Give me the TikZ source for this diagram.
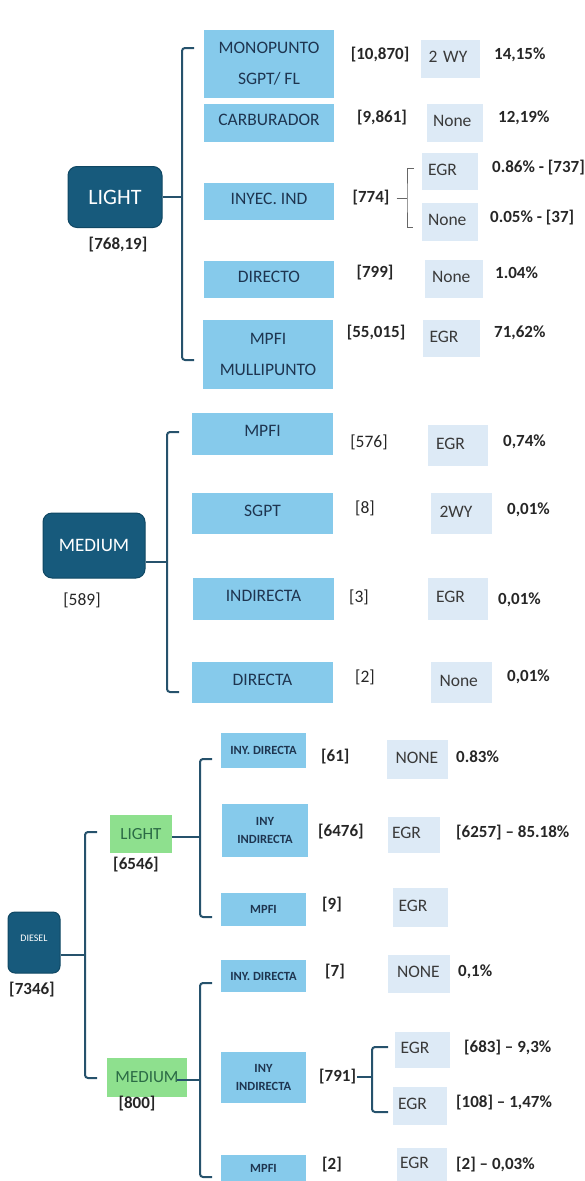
\documentclass[tikz,border=0pt]{standalone}
\usepackage{fontspec}
\setmainfont{Carlito}
\usetikzlibrary{positioning}

\definecolor{hubblue}{HTML}{175A7C}
\definecolor{hubedge}{HTML}{0F4763}
\definecolor{catblue}{HTML}{86CAEB}
\definecolor{typblue}{HTML}{DDEAF6}
\definecolor{grn}{HTML}{8EE08E}
\definecolor{grntext}{HTML}{2B6A45}
\definecolor{linec}{HTML}{26526C}
\definecolor{cattext}{HTML}{1E3550}
\definecolor{typtext}{HTML}{3A3A3A}
\definecolor{numtext}{HTML}{262626}

\begin{document}
\begin{tikzpicture}[x=1pt, y=-1pt,
    node distance=5pt,
    hub/.style={draw=hubedge, line width=1pt, fill=hubblue, rounded corners=9pt, text=white, inner sep=0pt},
    cat/.style={fill=catblue, text=cattext, inner sep=0pt, align=center, font=\fontsize{17.5}{31}\selectfont},
    cat1/.style={cat, text height=12pt, text depth=7pt},
    typ/.style={fill=typblue, text=typtext, inner sep=0pt, text width=44pt, align=left, text height=12pt, text depth=5pt, font=\fontsize{17.5}{21}\selectfont},
    sub/.style={fill=catblue, text=cattext, inner sep=0pt, align=center, font=\bfseries\fontsize{12.5}{18}\selectfont},
    grnbox/.style={fill=grn, text=grntext, inner sep=0pt, font=\fontsize{17}{20}\selectfont},
    num/.style={text=numtext, inner sep=1pt, font=\bfseries\fontsize{17}{21}\selectfont},
    numr/.style={num, font=\fontsize{17.5}{21}\selectfont},
    pct/.style={num, anchor=west},
    brk/.style={draw=linec, line width=2pt, rounded corners=3pt},
    thinbrk/.style={draw=black!60, line width=0.9pt}
  ]
  \useasboundingbox (0,0) rectangle (585,1181);

  % --- LIGHT ---
  \node[hub, minimum width=94pt, minimum height=61pt, font=\fontsize{22}{26}\selectfont] (light) at (115,197) {LIGHT};
  \node[num, below=8pt of light, xshift=3pt] (lightn) {[768,19]};

  \node[cat, minimum width=130pt, minimum height=68pt] (mono) at (269,64) {MONOPUNTO\\SGPT/ FL};
  \node[cat1, minimum width=130pt, minimum height=38pt] (carb) at (269,123) {CARBURADOR};
  \node[cat1, minimum width=130pt, minimum height=37pt] (inyec) at (269,201.5) {INYEC. IND};
  \node[cat1, minimum width=130pt, minimum height=37pt] (directo) at (269,279.5) {DIRECTO};
  \node[cat, minimum width=130pt, minimum height=69pt] (multi) at (268,354.5) {MPFI\\MULLIPUNTO};

  \node[num] (nmono) at (380,55) {[10,870]};
  \node[num] (ncarb) at (382,118) {[9,861]};
  \node[num] (ninyec) at (371,198) {[774]};
  \node[num] (ndirecto) at (375,273) {[799]};
  \node[num] (nmulti) at (376,333) {[55,015]};

  \node[typ, minimum width=59pt, minimum height=38pt] (tmono) at (450.5,59) {2 WY};
  \node[typ, minimum width=56pt, minimum height=38pt] (tcarb) at (455,123) {None};
  \node[typ, minimum width=56pt, minimum height=37pt] (tinyegr) at (450,171.5) {EGR};
  \node[typ, minimum width=56pt, minimum height=38pt] (tinynone) at (450,222) {None};
  \node[typ, minimum width=58pt, minimum height=38pt] (tdirecto) at (454,279) {None};
  \node[typ, minimum width=57pt, minimum height=37pt] (tmulti) at (451.5,338.5) {EGR};

  \node[pct] (pmono) at (493,55) {14,15\%};
  \node[pct] (pcarb) at (497,118) {12,19\%};
  \node[pct] (pinyegr) at (491,168) {0.86\% - [737]};
  \node[pct] (pinynone) at (489,218) {0.05\% - [37]};
  \node[pct] (pdirecto) at (494,273) {1.04\%};
  \node[pct] (pmulti) at (493,333) {71,62\%};

  \coordinate (lmid) at (182,197);
  \coordinate (ltop) at (194,48);
  \coordinate (lbot) at (194,360);
  \draw[brk] (light) -- (lmid);
  \draw[brk] (ltop) -| (lmid) |- (lbot);

  \coordinate (imid) at (407,198);
  \coordinate (itop) at (414,168);
  \coordinate (ibot) at (413,227);
  \draw[thinbrk, shorten <=6pt] (ninyec.east) -- (imid);
  \draw[thinbrk] (itop) -| (imid) |- (ibot);

  % --- MEDIUM ---
  \node[hub, minimum width=102pt, minimum height=65pt, font=\fontsize{19}{23}\selectfont] (medium) at (94,545.5) {MEDIUM};
  \node[numr, below=13pt of medium, xshift=-12pt] (mediumn) {[589]};

  \node[cat1, minimum width=141pt, minimum height=42pt] (mmpfi) at (262.5,434) {MPFI};
  \node[cat1, minimum width=141pt, minimum height=41pt] (msgpt) at (262.5,513.5) {SGPT};
  \node[cat1, minimum width=141pt, minimum height=42pt] (mindir) at (263.5,599) {INDIRECTA};
  \node[cat1, minimum width=141pt, minimum height=41pt] (mdir) at (262.5,682.5) {DIRECTA};

  \node[numr] (nmmpfi) at (369,442) {[576]};
  \node[numr] (nmsgpt) at (365,508) {[8]};
  \node[numr] (nmindir) at (359,597) {[3]};
  \node[numr] (nmdir) at (365,677) {[2]};

  \node[typ, minimum width=60pt, minimum height=41pt] (tmmpfi) at (458,445.5) {EGR};
  \node[typ, minimum width=61pt, minimum height=41pt] (tmsgpt) at (461.5,513.5) {2WY};
  \node[typ, minimum width=60pt, minimum height=42pt] (tmindir) at (458,599) {EGR};
  \node[typ, minimum width=61pt, minimum height=41pt] (tmdir) at (461.5,682.5) {None};

  \node[pct] (pmmpfi) at (502,442) {0,74\%};
  \node[pct] (pmsgpt) at (506,510) {0,01\%};
  \node[pct] (pmindir) at (497,600) {0,01\%};
  \node[pct] (pmdir) at (506,677) {0,01\%};

  \coordinate (mmid) at (167,562);
  \coordinate (mtop) at (179,432);
  \coordinate (mbot) at (179,692);
  \draw[brk] (medium.east |- mmid) -- (mmid);
  \draw[brk] (mtop) -| (mmid) |- (mbot);

  % --- DIESEL ---
  \node[hub, minimum width=52pt, minimum height=61pt, rounded corners=7pt, text depth=8pt, font=\fontsize{10}{12}\selectfont] (diesel) at (34,942.5) {DIESEL};
  \node[num, below=7pt of diesel, xshift=-2pt] (dieseln) {[7346]};

  \node[grnbox, minimum width=62pt, minimum height=38pt] (dlight) at (141,834) {LIGHT};
  \node[num, below=3pt of dlight, xshift=-5pt] (dlightn) {[6546]};
  \node[grnbox, minimum width=80pt, minimum height=39pt] (dmed) at (147,1077.5) {MEDIUM};
  \node[num, below=-2pt of dmed, xshift=-10pt] (dmedn) {[800]};

  \coordinate (dmid) at (85,955);
  \coordinate (dtop) at (97,832);
  \coordinate (dbot) at (97,1078);
  \draw[brk] (diesel.east |- dmid) -- (dmid);
  \draw[brk] (dtop) -| (dmid) |- (dbot);

  \node[sub, minimum width=85pt, minimum height=35pt] (dldir) at (263.5,750.5) {INY. DIRECTA};
  \node[sub, minimum width=86pt, minimum height=53pt] (dlind) at (265,830.5) {INY\\INDIRECTA};
  \node[sub, minimum width=85pt, minimum height=33pt] (dlmpfi) at (263.5,909.5) {MPFI};
  \node[sub, minimum width=85pt, minimum height=32pt] (dmdir) at (263.5,976) {INY. DIRECTA};
  \node[sub, minimum width=85pt, minimum height=51pt] (dmind) at (263.5,1077.5) {INY\\INDIRECTA};
  \node[sub, minimum width=85pt, minimum height=26pt] (dmmpfi) at (263.5,1168) {MPFI};

  \coordinate (slmid) at (200,837);
  \coordinate (sltop) at (212,759);
  \coordinate (slbot) at (212,917);
  \draw[brk] (dlight.east |- slmid) -- (slmid);
  \draw[brk] (sltop) -| (slmid) |- (slbot);

  \coordinate (smmid) at (200,1080);
  \coordinate (smtop) at (212,983);
  \coordinate (smbot) at (212,1177);
  \draw[brk] ([xshift=-10pt]dmed.east |- smmid) -- (smmid);
  \draw[brk] (smtop) -| (smmid) |- (smbot);

  \node[num, anchor=west] (ndldir) at (320,757) {[61]};
  \node[num, anchor=west] (ndlind) at (317,832) {[6476]};
  \node[num, anchor=west] (ndlmpfi) at (321,905) {[9]};
  \node[num, anchor=west] (ndmdir) at (324,972) {[7]};
  \node[num, anchor=west] (ndmind) at (318,1077) {[791]};
  \node[num, anchor=west] (ndmmpfi) at (321,1165) {[2]};

  \node[typ, minimum width=61pt, minimum height=39pt] (tdldir) at (417.5,759.5) {NONE};
  \node[typ, minimum width=52pt, minimum height=36pt] (tdlind) at (414,835) {EGR};
  \node[typ, minimum width=55pt, minimum height=39pt] (tdlmpfi) at (420.5,907.5) {EGR};
  \node[typ, minimum width=62pt, minimum height=38pt] (tdmdir) at (419,974) {NONE};
  \node[typ, minimum width=55pt, minimum height=36pt] (tdmind1) at (422.5,1050) {EGR};
  \node[typ, minimum width=54pt, minimum height=38pt] (tdmind2) at (420,1106) {EGR};
  \node[typ, minimum width=50pt, minimum height=33pt] (tdmmpfi) at (422,1164.5) {EGR};

  \coordinate (bmid) at (372,1077);
  \coordinate (btop) at (388,1047);
  \coordinate (bbot) at (388,1112);
  \draw[brk] (ndmind) -- (bmid);
  \draw[brk] (btop) -| (bmid) |- (bbot);

  \node[pct] (pdldir) at (455,757) {0.83\%};
  \node[pct] (pdlind) at (455,833) {[6257] – 85.18\%};
  \node[pct] (pdmdir) at (457,972) {0,1\%};
  \node[pct] (pdmind1) at (463,1048) {[683] – 9,3\%};
  \node[pct] (pdmind2) at (455,1103) {[108] – 1,47\%};
  \node[pct] (pdmmpfi) at (455,1165) {[2] – 0,03\%};
\end{tikzpicture}
\end{document}
